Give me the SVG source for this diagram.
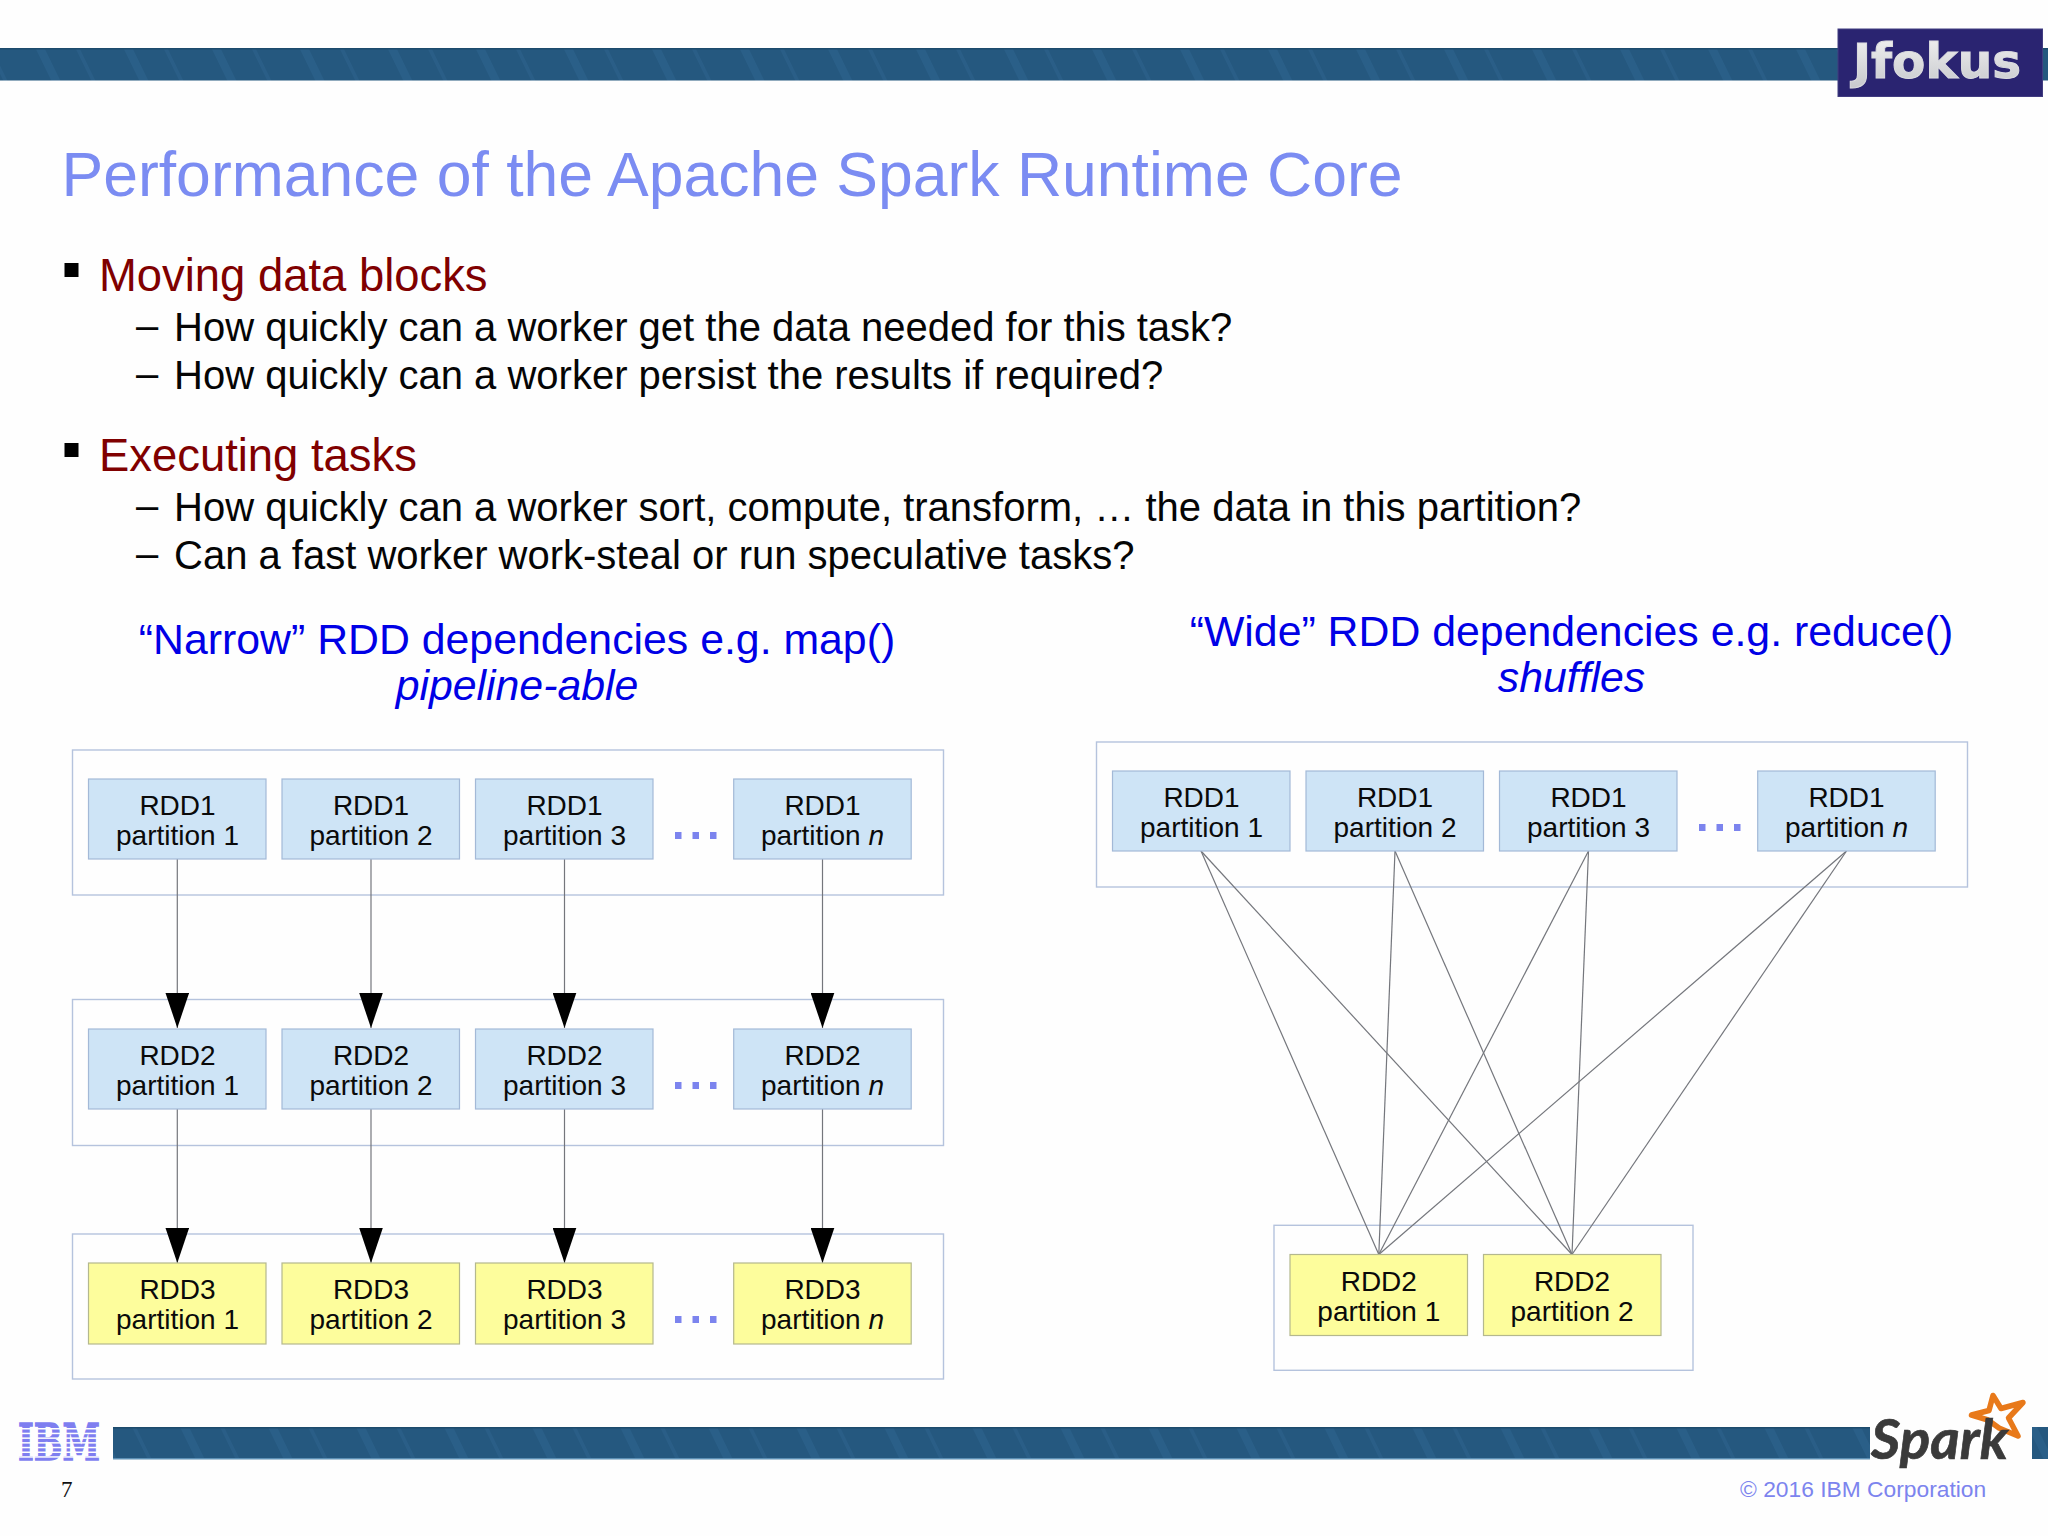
<svg xmlns="http://www.w3.org/2000/svg" width="2048" height="1536" viewBox="0 0 2048 1536">
<style>
text{font-family:"Liberation Sans",Arial,sans-serif}
.title{font-size:62.5px;fill:#7b8cf2}
.h{font-size:45.4px;fill:#800000}
.s{font-size:40px;fill:#050505}
.b{font-size:42.8px;fill:#0000e6;text-anchor:middle}
.o{fill:#fefefe;stroke:#b5c3dd;stroke-width:1.4}
.p rect{fill:#cee4f6;stroke:#a3b9d7;stroke-width:1.2}
.y rect{fill:#fdfd9c;stroke:#b4b88e;stroke-width:1.2}
.p text,.y text{font-size:28px;fill:#0a0a0a;text-anchor:middle}
.d{fill:#7c84ee}
.c line{stroke:#74767c;stroke-width:1.2}
.a{marker-end:url(#ah)}
</style>
<defs>
<marker id="ah" markerUnits="userSpaceOnUse" markerWidth="36" markerHeight="24" refX="35" refY="12" orient="auto" viewBox="0 0 36 24"><path d="M0 0.200L35 12L0 23.800z" fill="#000"/></marker>
<pattern id="st" width="88" height="100" patternUnits="userSpaceOnUse" patternTransform="skewX(26)"><rect width="88" height="100" fill="#25587f"/><rect x="12" width="9" height="100" fill="#2a5f88"/><rect x="52" width="4" height="100" fill="#2a5e87"/></pattern>
<linearGradient id="jf" x1="0" y1="0" x2="0" y2="1"><stop offset="0" stop-color="#f2f2f2"/><stop offset="1" stop-color="#c6c8cc"/></linearGradient>
<g id="dots"><rect x="675" y="832" width="6.500" height="7"/><rect x="692.500" y="832" width="6.500" height="7"/><rect x="710" y="832" width="6.500" height="7"/></g>
</defs>
<rect width="2048" height="1536" fill="#fefefe"/>
<g id="bands">
<rect x="0" y="48.500" width="2048" height="32" fill="url(#st)"/><rect x="0" y="48" width="2048" height="1.500" fill="#1d4b6c"/>
<rect x="113" y="1427" width="1757" height="32" fill="url(#st)"/><rect x="113" y="1427" width="1757" height="1.500" fill="#1d4b6c"/><rect x="113" y="1458" width="1757" height="1.500" fill="#5c8fb4"/>
<rect x="2032" y="1427" width="16" height="32" fill="url(#st)"/>
</g>
<g id="jfokus"><rect x="1838" y="29" width="204.500" height="67.500" fill="#2a2471" stroke="#413c80" stroke-width="1"/>
<text x="1853" y="78" font-size="48" font-weight="bold" fill="url(#jf)" stroke="#dcdde0" stroke-width="1" textLength="168" lengthAdjust="spacingAndGlyphs" style="font-family:'DejaVu Sans',sans-serif">Jfokus</text></g>
<text id="title" class="title" x="61.500" y="196">Performance of the Apache Spark Runtime Core</text>
<g id="bullets">
<rect x="64.500" y="263" width="14" height="14" fill="#000"/>
<text class="h" x="99" y="291">Moving data blocks</text>
<text class="s" x="136" y="339">–</text><text class="s" x="174" y="341">How quickly can a worker get the data needed for this task?</text>
<text class="s" x="136" y="387">–</text><text class="s" x="174" y="389">How quickly can a worker persist the results if required?</text>
<rect x="64.500" y="443" width="14" height="14" fill="#000"/>
<text class="h" x="99" y="471">Executing tasks</text>
<text class="s" x="136" y="519">–</text><text class="s" x="174" y="521">How quickly can a worker sort, compute, transform, … the data in this partition?</text>
<text class="s" x="136" y="567">–</text><text class="s" x="174" y="569">Can a fast worker work-steal or run speculative tasks?</text>
</g>
<g id="narrow-heading"><text class="b" x="517" y="654">“Narrow” RDD dependencies e.g. map()</text><text class="b" x="517" y="700" font-style="italic">pipeline-able</text></g>
<g id="wide-heading"><text class="b" x="1571.500" y="646">“Wide” RDD dependencies e.g. reduce()</text><text class="b" x="1571.500" y="692" font-style="italic">shuffles</text></g>
<g id="frames">
<rect class="o" x="72.500" y="750" width="871" height="145"/>
<rect class="o" x="72.500" y="999.500" width="871" height="146"/>
<rect class="o" x="72.500" y="1234" width="871" height="145"/>
<rect class="o" x="1096.500" y="742" width="871" height="145"/>
<rect class="o" x="1274" y="1225.300" width="419" height="145"/>
</g>
<g id="connectors" class="c">
<line class="a" x1="177.300" y1="859" x2="177.300" y2="1028"/><line class="a" x1="371" y1="859" x2="371" y2="1028"/><line class="a" x1="564.500" y1="859" x2="564.500" y2="1028"/><line class="a" x1="822.500" y1="859" x2="822.500" y2="1028"/>
<line class="a" x1="177.300" y1="1109" x2="177.300" y2="1263"/><line class="a" x1="371" y1="1109" x2="371" y2="1263"/><line class="a" x1="564.500" y1="1109" x2="564.500" y2="1263"/><line class="a" x1="822.500" y1="1109" x2="822.500" y2="1263"/>
<line x1="1201" y1="851" x2="1378.800" y2="1254.500"/><line x1="1201" y1="851" x2="1572" y2="1254.500"/>
<line x1="1395" y1="851" x2="1378.800" y2="1254.500"/><line x1="1395" y1="851" x2="1572" y2="1254.500"/>
<line x1="1588.500" y1="851" x2="1378.800" y2="1254.500"/><line x1="1588.500" y1="851" x2="1572" y2="1254.500"/>
<line x1="1846.500" y1="851" x2="1378.800" y2="1254.500"/><line x1="1846.500" y1="851" x2="1572" y2="1254.500"/>
</g>
<g id="n-r1p1" class="p"><rect x="88.500" y="779" width="177.500" height="80"/><text x="177.500" y="815">RDD1</text><text x="177.500" y="845">partition 1</text></g>
<g id="n-r1p2" class="p"><rect x="282" y="779" width="177.500" height="80"/><text x="371" y="815">RDD1</text><text x="371" y="845">partition 2</text></g>
<g id="n-r1p3" class="p"><rect x="475.500" y="779" width="177.500" height="80"/><text x="564.500" y="815">RDD1</text><text x="564.500" y="845">partition 3</text></g>
<g id="n-r1pn" class="p"><rect x="733.700" y="779" width="177.500" height="80"/><text x="822.500" y="815">RDD1</text><text x="822.500" y="845">partition <tspan font-style="italic">n</tspan></text></g>
<g id="n-r2p1" class="p"><rect x="88.500" y="1029" width="177.500" height="80"/><text x="177.500" y="1065">RDD2</text><text x="177.500" y="1095">partition 1</text></g>
<g id="n-r2p2" class="p"><rect x="282" y="1029" width="177.500" height="80"/><text x="371" y="1065">RDD2</text><text x="371" y="1095">partition 2</text></g>
<g id="n-r2p3" class="p"><rect x="475.500" y="1029" width="177.500" height="80"/><text x="564.500" y="1065">RDD2</text><text x="564.500" y="1095">partition 3</text></g>
<g id="n-r2pn" class="p"><rect x="733.700" y="1029" width="177.500" height="80"/><text x="822.500" y="1065">RDD2</text><text x="822.500" y="1095">partition <tspan font-style="italic">n</tspan></text></g>
<g id="n-r3p1" class="y"><rect x="88.500" y="1263" width="177.500" height="81"/><text x="177.500" y="1299">RDD3</text><text x="177.500" y="1329">partition 1</text></g>
<g id="n-r3p2" class="y"><rect x="282" y="1263" width="177.500" height="81"/><text x="371" y="1299">RDD3</text><text x="371" y="1329">partition 2</text></g>
<g id="n-r3p3" class="y"><rect x="475.500" y="1263" width="177.500" height="81"/><text x="564.500" y="1299">RDD3</text><text x="564.500" y="1329">partition 3</text></g>
<g id="n-r3pn" class="y"><rect x="733.700" y="1263" width="177.500" height="81"/><text x="822.500" y="1299">RDD3</text><text x="822.500" y="1329">partition <tspan font-style="italic">n</tspan></text></g>
<g id="w-r1p1" class="p"><rect x="1112.500" y="771" width="177.500" height="80"/><text x="1201.500" y="807">RDD1</text><text x="1201.500" y="837">partition 1</text></g>
<g id="w-r1p2" class="p"><rect x="1306" y="771" width="177.500" height="80"/><text x="1395" y="807">RDD1</text><text x="1395" y="837">partition 2</text></g>
<g id="w-r1p3" class="p"><rect x="1499.500" y="771" width="177.500" height="80"/><text x="1588.500" y="807">RDD1</text><text x="1588.500" y="837">partition 3</text></g>
<g id="w-r1pn" class="p"><rect x="1757.700" y="771" width="177.500" height="80"/><text x="1846.500" y="807">RDD1</text><text x="1846.500" y="837">partition <tspan font-style="italic">n</tspan></text></g>
<g id="w-r2p1" class="y"><rect x="1290" y="1254.500" width="177.500" height="81"/><text x="1378.800" y="1291">RDD2</text><text x="1378.800" y="1321">partition 1</text></g>
<g id="w-r2p2" class="y"><rect x="1483.500" y="1254.500" width="177.500" height="81"/><text x="1572" y="1291">RDD2</text><text x="1572" y="1321">partition 2</text></g>
<g id="ellipses" class="d">
<use href="#dots"/><use href="#dots" y="250"/><use href="#dots" y="484"/><use href="#dots" x="1024" y="-8"/>
</g>
<g id="ibm-logo">
<text x="18" y="1460" font-size="50.500" font-weight="bold" fill="#7e7ef0" stroke="#7e7ef0" stroke-width="1.400" textLength="82" lengthAdjust="spacingAndGlyphs" style="font-family:'DejaVu Serif',serif">IBM</text>
<g fill="#fefefe"><rect x="16" y="1428" width="88" height="1.500"/><rect x="16" y="1432.700" width="88" height="1.500"/><rect x="16" y="1437.400" width="88" height="1.500"/><rect x="16" y="1442.100" width="88" height="1.500"/><rect x="16" y="1446.800" width="88" height="1.500"/><rect x="16" y="1451.500" width="88" height="1.500"/><rect x="16" y="1456.200" width="88" height="1.500"/></g>
</g>
<text id="page" x="61" y="1497" font-size="23" fill="#111" style="font-family:'Liberation Serif',serif">7</text>
<g id="spark-logo">
<path d="M1993 1395.500L2001 1408.500L2023 1402.500L2008.500 1418L2018 1436L1999 1428L1988 1420L1971.500 1415L1989 1410.500z" fill="#fefefe" stroke="#e8791a" stroke-width="5.500" stroke-linejoin="round"/>
<text x="1871" y="1459" font-size="56" font-style="italic" font-weight="bold" fill="#3a3a3a" stroke="#3a3a3a" stroke-width="0.700" textLength="137" lengthAdjust="spacingAndGlyphs" style="font-family:'Lato',sans-serif">Spark</text>
</g>
<text id="copyright" x="1740" y="1497" font-size="22.800" fill="#7c84ee">© 2016 IBM Corporation</text>
</svg>
